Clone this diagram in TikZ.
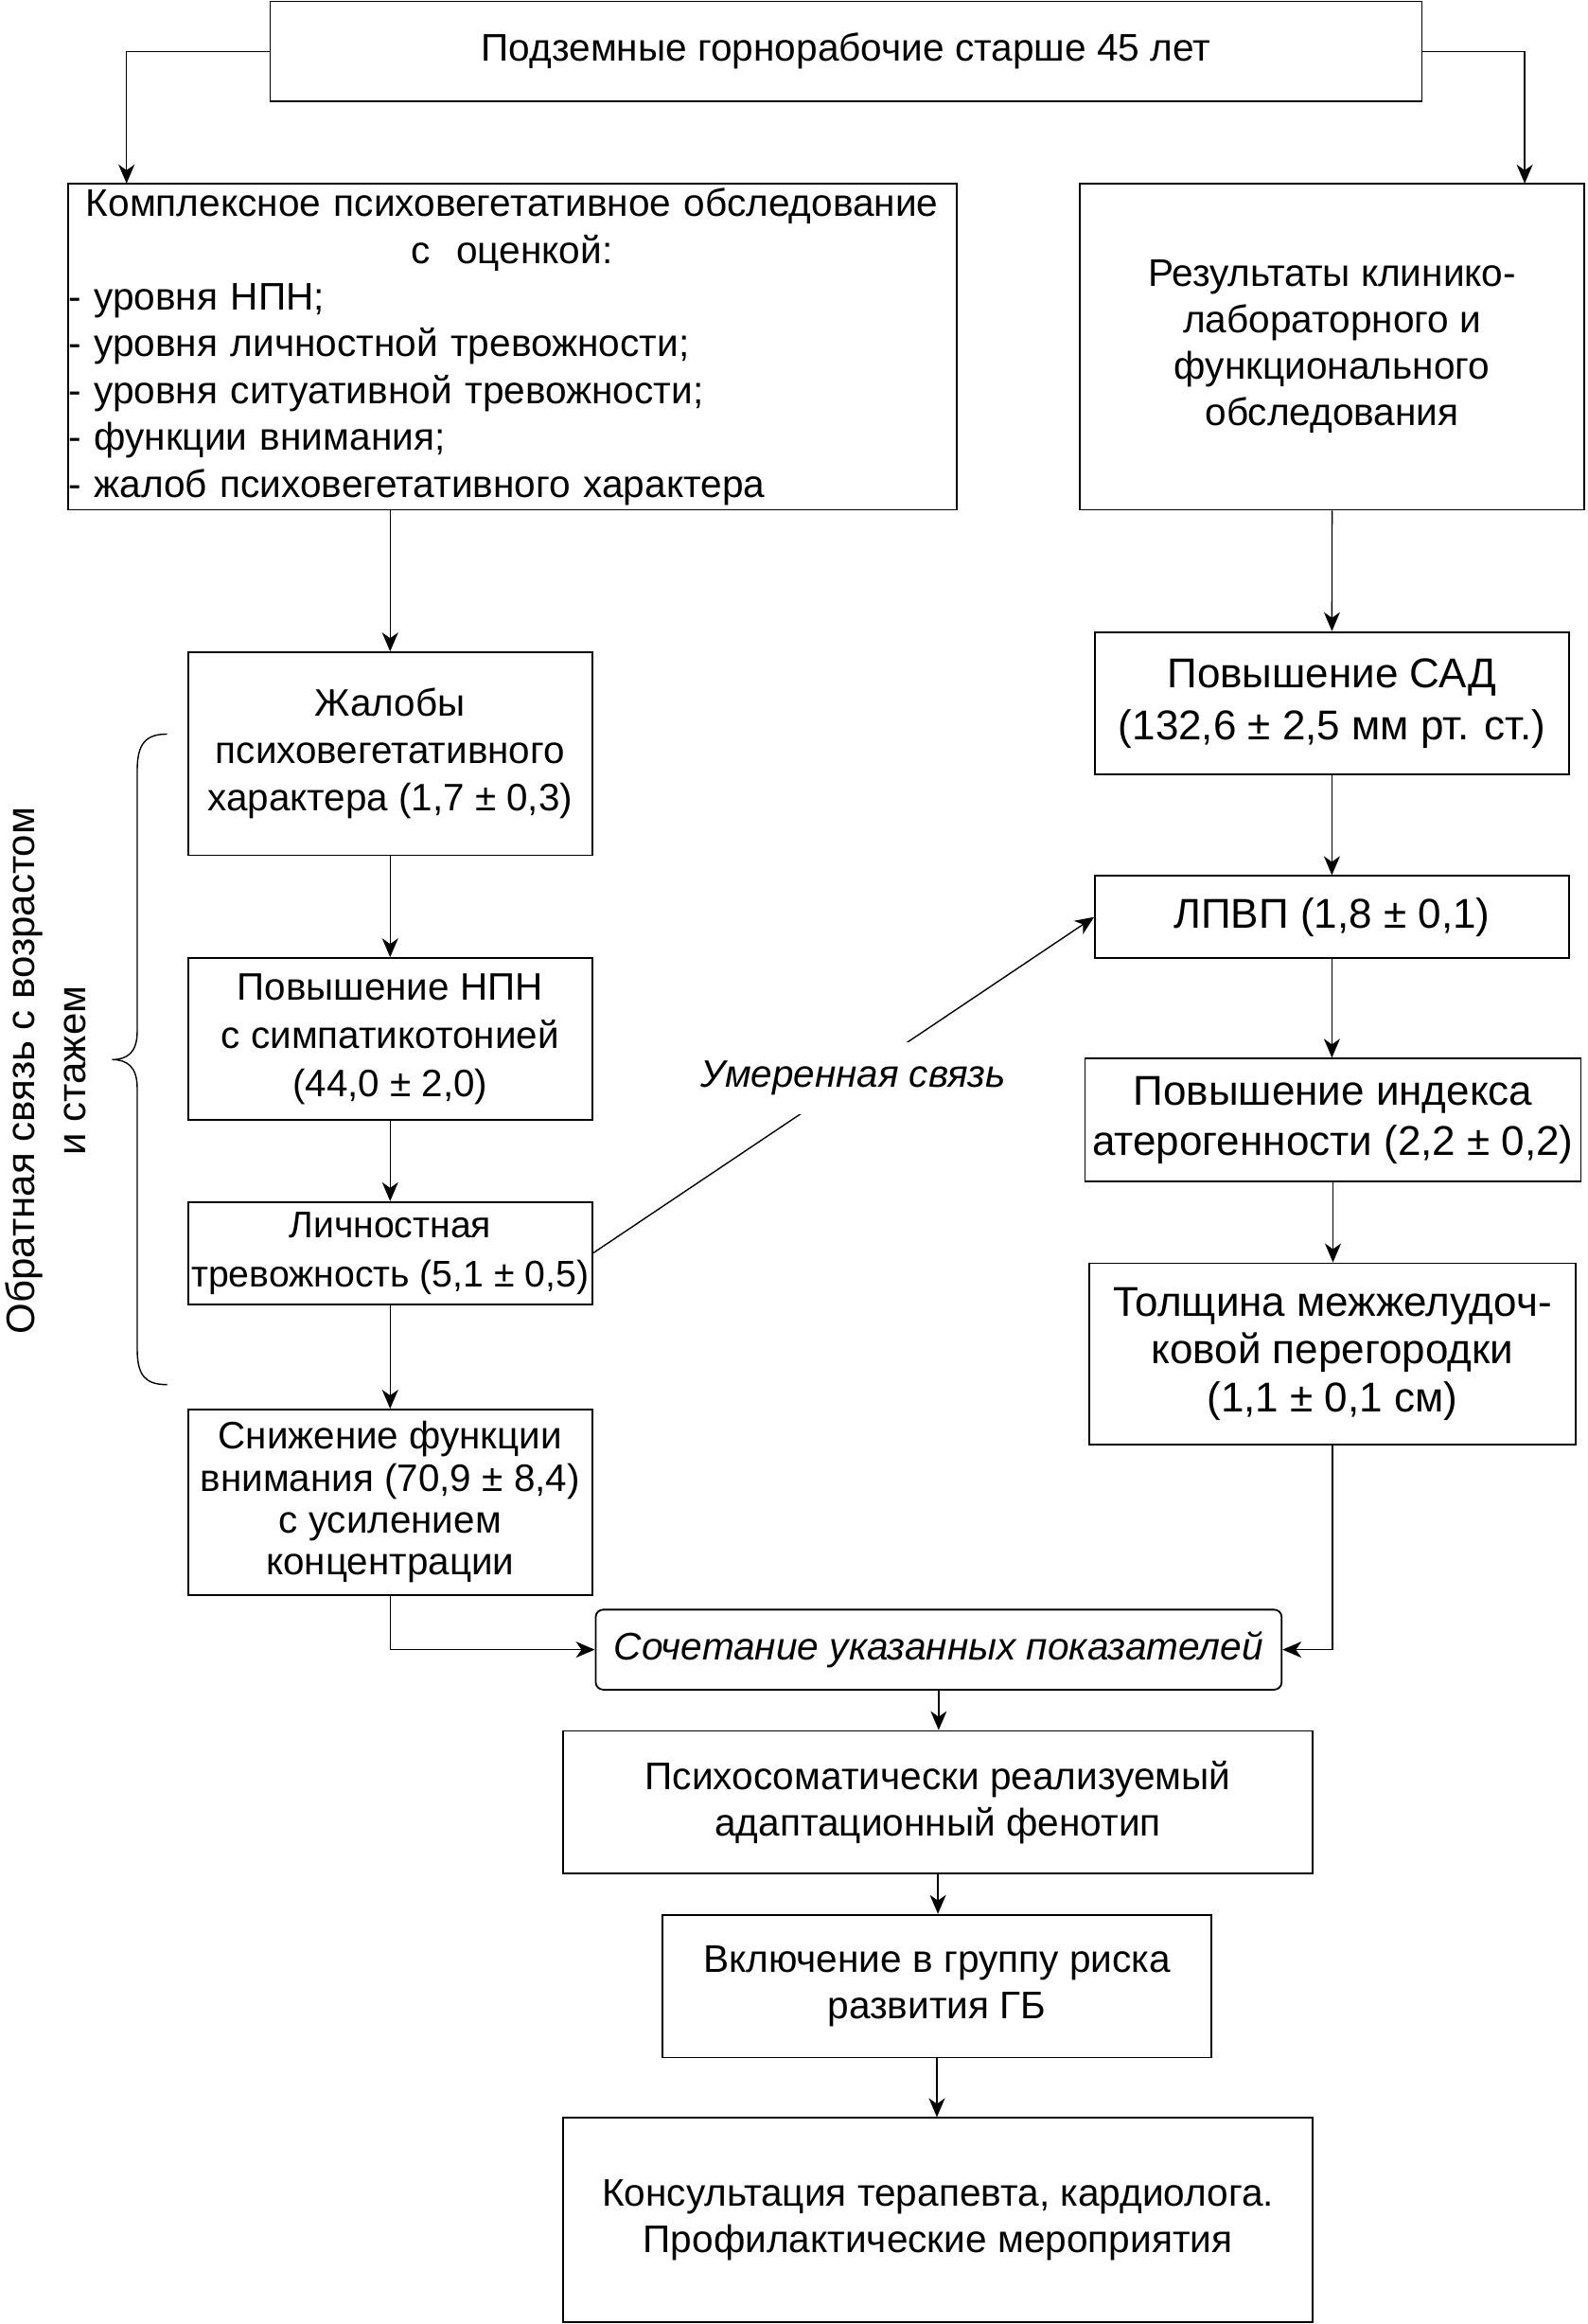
\documentclass[tikz,border=0pt]{standalone}
\usepackage{fontspec}
\setmainfont{Liberation Sans}
\usetikzlibrary{arrows.meta}
\begin{document}
\begin{tikzpicture}[x=0.78285pt,y=-0.78285pt,
  bx/.style 2 args={draw, line width=0.9pt, minimum width=#1*0.78285pt, minimum height=#2*0.78285pt, inner sep=0pt, align=center},
  fs/.style 2 args={font=\fontsize{#1}{#2}\selectfont},
  arr/.style={line width=0.7pt, -{Stealth[length=10pt,width=8.5pt,inset=3pt]}},
  lbl/.style={fill=white, inner xsep=2pt, inner ysep=10pt, font=\fontsize{20.2}{24}\selectfont\itshape}
]
\useasboundingbox (0,0) rectangle (1071.1,1568);

% top
\node[bx={777.3}{67.3}, fs={20.3}{24.4}] (top) at (571,34.65) {Подземные горнорабочие старше 45 лет};

% left big box
\node[bx={599.7}{220.1}] (kompl) at (345.65,233.85) {};
\node[fs={20.3}{24.7}, text width=599*0.78285pt, align=left, inner sep=0pt] (komplt) at (kompl.center)
 {\parindent=0pt{\centering Комплексное психовегетативное обследование\\ с\ \ оценкой:\par}
  - уровня НПН;\\
  - уровня личностной тревожности;\\
  - уровня ситуативной тревожности;\\
  - функции внимания;\\
  - жалоб психовегетативного характера};

% right big box
\node[bx={340}{220.1}, fs={20.3}{24.5}] (right) at (899,233.85) {Результаты клинико-\\лабораторного и\\функционального\\обследования};

% left column
\node[bx={272.6}{136.9}, fs={20.2}{25}] (zhal) at (263.3,508.55) {Жалобы\\психовегетативного\\характера (1,7 ± 0,3)};
\node[bx={272.6}{109.2}, fs={20.2}{25.4}] (npn) at (263.3,701) {Повышение НПН\\с симпатикотонией\\(44,0 ± 2,0)};
\node[bx={272.6}{69}, fs={19.6}{25.8}] (lich) at (263.3,845.5) {Личностная\\тревожность (5,1 ± 0,5)};
\node[bx={272.6}{125}, fs={20.2}{22.2}] (snizh) at (263.3,1013.5) {Снижение функции\\внимания (70,9 ± 8,4)\\с усилением\\концентрации};

% right column
\node[bx={319.8}{96.2}, fs={22}{27.4}] (sad) at (898.9,474.5) {Повышение САД\\(132,6 ± 2,5 мм рт. ст.)};
\node[bx={319.8}{55.4}, fs={22}{26}] (lpvp) at (898.9,618.7) {ЛПВП (1,8 ± 0,1)};
\node[bx={334.7}{83.1}, fs={22}{26.6}] (ind) at (899.6,755.75) {Повышение индекса\\атерогенности (2,2 ± 0,2)};
\node[bx={328.5}{122.4}, fs={22}{25.4}] (tol) at (899.25,913.5) {Толщина межжелудоч-\\ковой перегородки\\(1,1 ± 0,1 см)};

% bottom
\node[bx={463}{54}, rounded corners=4pt, font=\fontsize{20.3}{24}\selectfont\itshape] (soch) at (633.5,1113) {Сочетание указанных показателей};
\node[bx={506.2}{96.3}, fs={20.3}{24.3}] (psy) at (633,1216) {Психосоматически реализуемый\\адаптационный фенотип};
\node[bx={370.6}{96.3}, fs={20.3}{24.3}] (vkl) at (632.3,1340) {Включение в группу риска\\развития ГБ};
\node[bx={506.2}{137.7}, fs={20.3}{24.3}] (kons) at (633,1497.85) {Консультация терапевта, кардиолога.\\Профилактические мероприятия};

% rotated label
\node[rotate=90, align=center, inner sep=0pt, fs={21}{26.6}] (obr) at (30.8,722.4) {Обратная связь с возрастом\\и стажем};

% brace
\draw[line width=0.7pt] (112.8,495.3) .. controls (98,495.3) and (92.6,502) .. (92.6,520) -- (92.6,696)
  .. controls (92.6,710) and (86,714.9) .. (75.6,714.9)
  .. controls (86,714.9) and (92.6,720) .. (92.6,734) -- (92.6,910)
  .. controls (92.6,928) and (98,934.2) .. (112.8,934.2);

% connectors
\coordinate (kin) at (85.4,123.8);
\coordinate (rin) at (1029,123.8);
\draw[arr] (top.west) -| (kin);
\draw[arr] (top.east) -| (rin);
\draw[arr] (zhal.north |- kompl.south) -- (zhal.north);
\draw[arr] (right.south) -- (sad.north);
\draw[arr] (sad.south) -- (lpvp.north);
\draw[arr] (lpvp.south) -- (lpvp.south |- ind.north);
\draw[arr] (ind.south) -- (ind.south |- tol.north);
\draw[arr] (zhal.south) -- (npn.north);
\draw[arr] (npn.south) -- (lich.north);
\draw[arr] (lich.south) -- (snizh.north);
\draw[arr] (snizh.south) |- (soch.west);
\draw[arr] (tol.south) |- (soch.east);
\draw[arr] (soch.south) -- (soch.south |- psy.north);
\draw[arr] (psy.south) -- (psy.south |- vkl.north);
\draw[arr] (vkl.south) -- (vkl.south |- kons.north);
\draw[arr] (lich.east) -- node[lbl, pos=0.52] (umer) {Умеренная связь} (lpvp.west);
\end{tikzpicture}
\end{document}
